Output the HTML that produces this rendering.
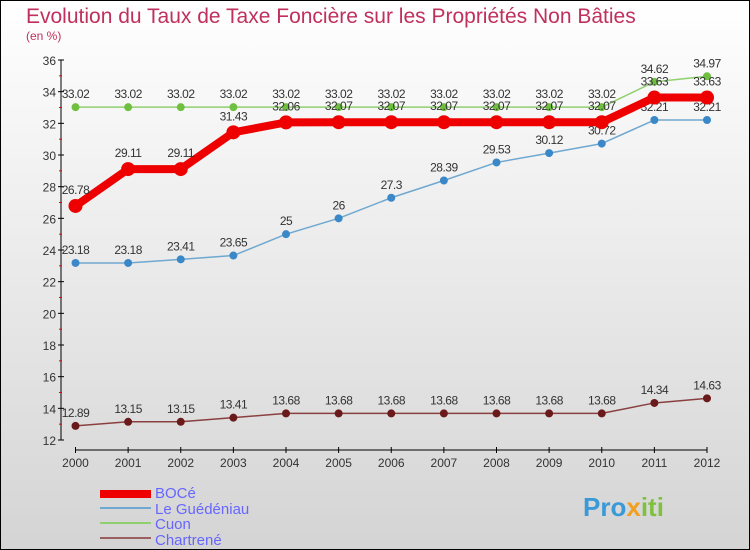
<!DOCTYPE html>
<html><head><meta charset="utf-8"><style>
body{margin:0}
#c{width:750px;height:550px;position:relative;overflow:hidden}
svg{font-family:"Liberation Sans",sans-serif}
</style></head><body>
<div id="c">
<svg id="s" width="750" height="550" xmlns="http://www.w3.org/2000/svg">
<defs><linearGradient id="bg" x1="0" y1="0" x2="0" y2="1"><stop offset="0" stop-color="#ffffff"/><stop offset="1" stop-color="#d4d4d4"/></linearGradient></defs>
<rect x="0.5" y="0.5" width="749" height="549" fill="url(#bg)" stroke="#000"/>
<text x="26" y="23" font-size="21" fill="#c0305e">Evolution du Taux de Taxe Foncière sur les Propriétés Non Bâties</text>
<text x="26" y="40" font-size="12" fill="#c0305e">(en %)</text>
<g id="axes"></g><g id="series"></g>
<g>
<rect x="100" y="490" width="51" height="8" fill="#ee0000"/>
<text x="155" y="498" font-size="15" fill="#6666ff">BOCé</text>
<line x1="100" y1="508" x2="151" y2="508" stroke="#6fa8d0" stroke-width="2"/>
<text x="155" y="514" font-size="15" fill="#6666ff">Le Guédéniau</text>
<line x1="100" y1="523" x2="151" y2="523" stroke="#90d070" stroke-width="2"/>
<text x="155" y="529" font-size="15" fill="#6666ff">Cuon</text>
<line x1="100" y1="538" x2="151" y2="538" stroke="#9a6060" stroke-width="2"/>
<text x="155" y="545" font-size="15" fill="#6666ff">Chartrené</text>
</g>
<text x="583" y="516" font-size="26" font-weight="bold" fill="#3a9ad8">Pro<tspan fill="#f0a020">x</tspan><tspan fill="#80c040">iti</tspan></text>
</svg></div>
<script>
const years=[2000,2001,2002,2003,2004,2005,2006,2007,2008,2009,2010,2011,2012];
const yTicks=[12,14,16,18,20,22,24,26,28,30,32,34,36];
const boce=[26.78,29.11,29.11,31.43,32.06,32.07,32.07,32.07,32.07,32.07,32.07,33.63,33.63];
const guedeniau=[23.18,23.18,23.41,23.65,25,26,27.3,28.39,29.53,30.12,30.72,32.21,32.21];
const cuon=[33.02,33.02,33.02,33.02,33.02,33.02,33.02,33.02,33.02,33.02,33.02,34.62,34.97];
const chartrene=[12.89,13.15,13.15,13.41,13.68,13.68,13.68,13.68,13.68,13.68,13.68,14.34,14.63];
const NS="http://www.w3.org/2000/svg";
const X=i=>75.5+i*(707-75.5)/(years.length-1);
const Y=v=>440-(v-12)*(380/24);
function mk(t,a,p){const e=document.createElementNS(NS,t);for(const k in a)e.setAttribute(k,a[k]);p.appendChild(e);return e;}
const ax=document.getElementById('axes');
let l=mk('line',{x1:61,y1:60,x2:61,y2:440,stroke:'#000'},ax);


l=mk('line',{x1:75,y1:450,x2:707,y2:450,stroke:'#000'},ax);


yTicks.forEach((v,i)=>{
 const y=Y(v);
 mk('line',{x1:58,y1:y,x2:64,y2:y,stroke:'#000'},ax);
 if(i<yTicks.length-1)mk('line',{x1:59,y1:Y(v+1),x2:62,y2:Y(v+1),stroke:'#e00'},ax);
 const t=mk('text',{x:56,y:y+5,'font-size':12,fill:'#333','text-anchor':'end'},ax);t.textContent=v;
 
 
});
years.forEach((yr,i)=>{
 const x=X(i);
 mk('line',{x1:x,y1:447,x2:x,y2:453,stroke:'#000'},ax);
 const t=mk('text',{x:x,y:467,'font-size':12,fill:'#333','text-anchor':'middle'},ax);t.textContent=yr;
 
 
});
const sg=document.getElementById('series');
function series(vals,name,stroke,w,fill,r,labelDy){
 const g=mk('g',{},sg);
 
 
 mk('polyline',{points:vals.map((v,i)=>X(i)+','+Y(v)).join(' '),fill:'none',stroke:stroke,'stroke-width':w,'stroke-linejoin':'round'},g);
 vals.forEach((v,i)=>{
  const c=mk('circle',{cx:X(i),cy:Y(v),r:r,fill:fill},g);
  
  
  const t=mk('text',{x:X(i),y:Y(v)+labelDy,'font-size':12,fill:'#333','text-anchor':'middle','letter-spacing':'-0.5'},g);
  t.textContent=String(v);
  
  
 });
}
series(cuon,'cuon','#90d070',1.5,'#70c040',4,-9);
series(guedeniau,'le-guedeniau','#6fa8d0',1.5,'#3a88c8',4,-9);
series(chartrene,'chartrene','#8a4040',1.5,'#6a1a1a',4,-9);
series(boce,'boce','#ee0000',8,'#ee0000',7,-12);
</script>
</body></html>
